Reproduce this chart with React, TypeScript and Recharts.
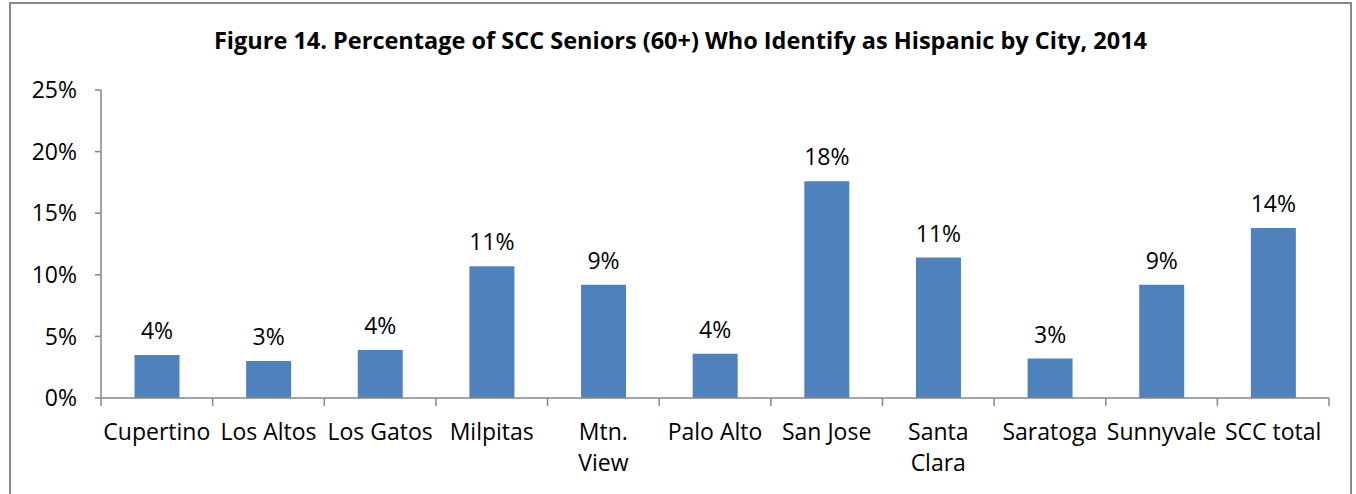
import { Bar, BarChart, LabelList, XAxis, YAxis } from "recharts";

const cities = [
  "Cupertino",
  "Los Altos",
  "Los Gatos",
  "Milpitas",
  "Mtn. View",
  "Palo Alto",
  "San Jose",
  "Santa Clara",
  "Saratoga",
  "Sunnyvale",
  "SCC total",
];
// how the axis labels break into lines, as in the original
const cityLines = [
  ["Cupertino"],
  ["Los Altos"],
  ["Los Gatos"],
  ["Milpitas"],
  ["Mtn.", "View"],
  ["Palo Alto"],
  ["San Jose"],
  ["Santa", "Clara"],
  ["Saratoga"],
  ["Sunnyvale"],
  ["SCC total"],
];
const hispanicPct = [3.5, 3.0, 3.9, 10.7, 9.2, 3.6, 17.6, 11.4, 3.2, 9.2, 13.8];
const yTicks = [0, 5, 10, 15, 20, 25];

const data = cities.map((city, i) => ({ city, value: hispanicPct[i] }));

const FONT = "'Open Sans', 'Liberation Sans', sans-serif";
const FS = 23;
const AXIS = "#868686";
const W = 1339;
const H = 490;
const margin = { top: 86, right: 21, bottom: 36, left: 0 };
const Y_W = 90;
const band = (W - margin.left - margin.right - Y_W) / cities.length;

function CityTick(props: any) {
  const { x, y, payload, index } = props;
  const lines = cityLines[index] ?? [payload.value];
  const left = x - band / 2;
  return (
    <g>
      <line x1={left} y1={y - 8} x2={left} y2={y} stroke={AXIS} strokeWidth={1.5} />
      {index === cities.length - 1 && (
        <line x1={x + band / 2} y1={y - 8} x2={x + band / 2} y2={y} stroke={AXIS} strokeWidth={1.5} />
      )}
      {lines.map((l: string, i: number) => (
        <text
          key={i}
          x={x}
          y={y + 34 + i * 31}
          textAnchor="middle"
          fontSize={FS}
          fontFamily={FONT}
          fill="#000"
        >
          {l}
        </text>
      ))}
    </g>
  );
}

export default function App() {
  return (
    <div
      style={{
        position: "absolute",
        left: 9,
        top: 2,
        width: W,
        height: H + 30,
        border: "2px solid #898989",
        background: "#fff",
      }}
    >
      <div
        style={{
          position: "absolute",
          top: 20,
          left: 0,
          width: "100%",
          textAlign: "center",
          fontFamily: FONT,
          fontWeight: 700,
          fontSize: 23.5,
          color: "#000",
        }}
      >
        Figure 14. Percentage of SCC Seniors (60+) Who Identify as Hispanic by City, 2014
      </div>
      <BarChart width={W} height={H} data={data} margin={margin} barCategoryGap="30%">
        <XAxis
          dataKey="city"
          axisLine={{ stroke: AXIS, strokeWidth: 1.5 }}
          tickLine={false}
          tick={<CityTick />}
          interval={0}
          height={60}
        />
        <YAxis
          width={Y_W}
          domain={[0, 25]}
          ticks={yTicks}
          tickFormatter={(v) => `${v}%`}
          axisLine={{ stroke: AXIS, strokeWidth: 1.5 }}
          tickLine={{ stroke: AXIS, strokeWidth: 1.5 }}
          tickSize={6}
          tickMargin={18}
          tick={{ fontSize: FS, fontFamily: FONT, fill: "#000" }}
        />
        <Bar dataKey="value" fill="#4F81BD" isAnimationActive={false}>
          <LabelList
            dataKey="value"
            position="top"
            offset={16}
            formatter={(v: any) => `${Math.round(Number(v))}%`}
            style={{ fontSize: FS, fontFamily: FONT, fill: "#000" }}
          />
        </Bar>
      </BarChart>
    </div>
  );
}
